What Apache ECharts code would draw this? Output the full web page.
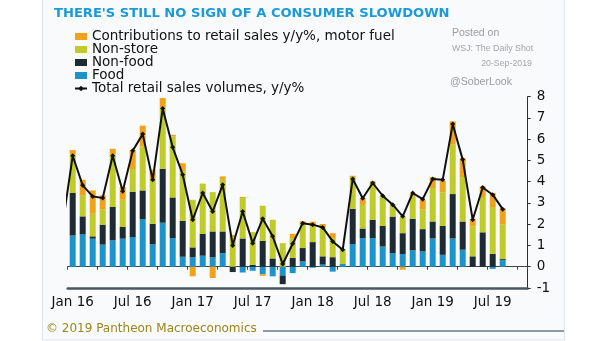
<!DOCTYPE html>
<html>
<head>
<meta charset="utf-8">
<script src="https://cdn.jsdelivr.net/npm/echarts@6/dist/echarts.min.js"></script>
<style>
html,body{margin:0;padding:0;background:#fff;}
#c{width:605px;height:341px;}
</style>
</head>
<body>
<div id="c"></div>
<script>
// Categories (Dec 15 is only partly visible, off the left edge)
const months = ['Dec 15',
  'Jan 16','Feb 16','Mar 16','Apr 16','May 16','Jun 16','Jul 16','Aug 16','Sep 16','Oct 16','Nov 16','Dec 16',
  'Jan 17','Feb 17','Mar 17','Apr 17','May 17','Jun 17','Jul 17','Aug 17','Sep 17','Oct 17','Nov 17','Dec 17',
  'Jan 18','Feb 18','Mar 18','Apr 18','May 18','Jun 18','Jul 18','Aug 18','Sep 18','Oct 18','Nov 18','Dec 18',
  'Jan 19','Feb 19','Mar 19','Apr 19','May 19','Jun 19','Jul 19','Aug 19','Sep 19','Oct 19'];

const food = [null,
  1.47,1.52,1.32,1.04,1.24,1.32,1.40,2.23,1.05,2.07,1.35,0.47,
  0.44,0.52,0.44,0.64,0.00,-0.27,-0.19,-0.35,-0.45,-0.41,-0.30,0.25,
  -0.05,0.10,-0.23,0.13,1.07,1.35,1.35,0.95,0.64,0.60,0.77,0.72,
  1.33,0.56,1.33,0.80,0.00,0.00,-0.10,0.31, null,null];

const nonFood = [null,
  2.00,0.85,0.11,0.94,1.57,0.55,2.13,1.36,0.97,2.54,1.91,1.69,
  0.47,1.02,1.22,1.02,-0.25,1.33,0.09,1.22,0.39,-0.41,0.41,0.63,
  1.16,0.39,0.45,0.00,1.65,0.45,0.86,0.97,1.72,0.98,1.49,1.05,
  0.80,1.36,2.09,1.33,0.49,1.62,0.61,0.05, null,null];

const nonStore = [null,
  1.80,0.97,1.06,0.73,2.46,1.28,1.07,2.07,2.11,2.86,2.87,2.33,
  2.24,2.37,1.85,2.47,1.40,1.90,1.54,1.65,1.82,1.11,0.94,1.18,
  0.74,1.38,0.90,0.70,1.50,1.11,1.73,1.40,0.56,0.78,1.05,0.94,
  1.57,1.57,2.32,2.09,1.41,1.66,2.20,1.62, null,null];

const motorFuel = [null,
  0.22,0.75,1.10,0.65,0.28,0.60,0.90,0.98,0.43,0.47,0.08,0.38,
  -0.45,0.00,-0.53,0.12,0.10,0.05,0.00,-0.08,0.00,0.00,0.20,0.08,
  0.22,0.14,0.23,0.00,0.06,0.31,0.08,0.00,0.00,-0.14,0.13,0.44,
  0.52,0.56,1.10,0.89,0.34,0.50,0.66,0.78, null,null];

const total = [2.0,
  5.22,3.83,3.31,3.23,5.22,3.55,5.46,6.24,4.09,7.44,5.62,4.33,
  2.21,3.47,2.60,3.86,1.00,2.60,1.11,2.26,1.43,0.13,1.08,2.05,
  1.98,1.85,1.19,0.80,4.13,3.22,3.94,3.34,2.92,2.37,3.47,3.18,
  4.13,4.09,6.71,5.04,2.21,3.73,3.39,2.71, null,null];

const yTicks = {min:-1, max:8, step:1};
const labelMonths = ['Jan','Jul'];
const tickMonths = ['Jan','Apr','Jul','Oct'];

const names = {
  fuel:'Contributions to retail sales y/y%, motor fuel',
  store:'Non-store', nonfood:'Non-food', food:'Food',
  total:'Total retail sales volumes, y/y%'
};
const colors = {fuel:'#F0A31A', store:'#BECB28', nonfood:'#1E2B33', food:'#1C94C9', total:'#111111'};
const FONT = 'DejaVu Sans';

const chart = echarts.init(document.getElementById('c'), null, {renderer:'canvas'});
function bar(name, data, color){
  return {name, type:'bar', stack:'s', data, barWidth:6, itemStyle:{color}, xAxisIndex:0, yAxisIndex:0, animation:false};
}
chart.setOption({
  animation:false,
  backgroundColor:'#ffffff',
  grid:{left:67.7, right:77.3, top:96.7, height:191.3, containLabel:false},
  legend:{
    orient:'vertical', left:74, top:29.5, padding:0, itemGap:-1,
    itemWidth:12, itemHeight:7,
    textStyle:{fontFamily:FONT, fontSize:13.5, color:'#111', lineHeight:13},
    data:[
      {name:names.fuel, icon:'rect'},
      {name:names.store, icon:'rect'},
      {name:names.nonfood, icon:'rect'},
      {name:names.food, icon:'rect'},
      {name:names.total}
    ]
  },
  xAxis:[
    {type:'category', data:months, min:1, position:'bottom',
     axisLine:{onZero:true, lineStyle:{color:'#3a464d', width:1}},
     axisTick:{show:true, length:3, lineStyle:{color:'#3a464d'},
       interval:(i,v)=>tickMonths.indexOf(String(v).slice(0,3))>=0},
     axisLabel:{show:false}, splitLine:{show:false}},
    {type:'category', data:months, min:1, position:'bottom',
     axisLine:{onZero:false, lineStyle:{color:'#4a5860', width:2.5}},
     axisTick:{show:false},
     axisLabel:{show:true, margin:7, fontFamily:FONT, fontSize:13.5, color:'#111',
       interval:(i,v)=>labelMonths.indexOf(String(v).slice(0,3))>=0},
     splitLine:{show:false}}
  ],
  yAxis:[{
    type:'value', position:'right', min:yTicks.min, max:yTicks.max, interval:yTicks.step,
    axisLine:{show:true, lineStyle:{color:'#2a2f33', width:1}},
    axisTick:{show:true, length:3, lineStyle:{color:'#2a2f33'}},
    axisLabel:{margin:9, fontFamily:FONT, fontSize:13.5, color:'#111'},
    splitLine:{show:false}
  }],
  series:[
    bar(names.food, food, colors.food),
    bar(names.nonfood, nonFood, colors.nonfood),
    bar(names.store, nonStore, colors.store),
    bar(names.fuel, motorFuel, colors.fuel),
    {name:names.total, type:'line', data:total, xAxisIndex:0, yAxisIndex:0,
     symbol:'diamond', symbolSize:5, showAllSymbol:true, clip:true, z:5,
     lineStyle:{color:colors.total, width:2}, itemStyle:{color:colors.total}}
  ],
  graphic:[
    {type:'rect', z:-100, silent:true, shape:{x:42.5, y:-1, width:522, height:341}, style:{fill:'#f9fafb', stroke:'#e1e5e8', lineWidth:1}},
    {type:'text', left:54, top:7.5, style:{text:"THERE'S STILL NO SIGN OF A CONSUMER SLOWDOWN", font:'bold 13.1px "DejaVu Sans"', fill:'#1A9AD6'}},
    {type:'text', left:452, top:28, style:{text:'Posted on', font:'10.5px "Liberation Sans"', fill:'#9a9da0'}},
    {type:'text', left:452, top:44, style:{text:'WSJ: The Daily Shot', font:'8.8px "Liberation Sans"', fill:'#a3a6a9'}},
    {type:'text', right:73, top:59, style:{text:'20-Sep-2019', font:'8.8px "Liberation Sans"', fill:'#a3a6a9'}},
    {type:'text', left:450, top:77, style:{text:'@SoberLook', font:'10.6px "Liberation Sans"', fill:'#9a9da0'}},
    {type:'text', left:46, top:323, style:{text:'\u00A9 2019 Pantheon Macroeconomics', font:'12px "DejaVu Sans"', fill:'#9a861c'}},
    {type:'line', shape:{x1:263, y1:331, x2:564, y2:331}, style:{stroke:'#8d9ba4', lineWidth:2}}
  ]
});
</script>
</body>
</html>
